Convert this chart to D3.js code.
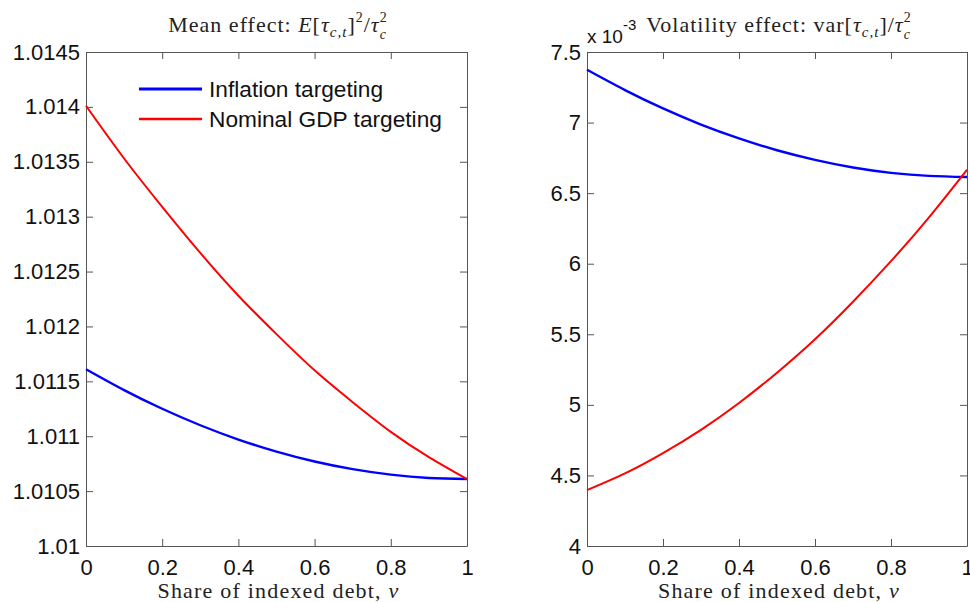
<!DOCTYPE html>
<meta charset="utf-8">
<script src="https://d3js.org/d3.v7.min.js"></script>
<style>
  body { margin: 0; background: #fff; }
  .tick text { font-family: "Liberation Sans", Arial, sans-serif; font-size: 22px; fill: #111; }
  .axis path, .axis line { stroke: #555; }
</style>
<div id="chart"></div>
<script>

// share of indexed debt (x values)
var share = [0, 0.1, 0.2, 0.3, 0.4, 0.5, 0.6, 0.7, 0.8, 0.9, 1];

// mean effect E[tau]^2 / tau^2
var meanInflation = [1.01161, 1.01142, 1.01125, 1.01110, 1.01097, 1.01086, 1.01077, 1.01070, 1.01065, 1.01062, 1.01061];
var meanNominal   = [1.01401, 1.01353, 1.01309, 1.01267, 1.01228, 1.01193, 1.01160, 1.01131, 1.01104, 1.01081, 1.01061];

// volatility effect var[tau] / tau^2, in units of 10^-3
var volInflation = [7.374, 7.230, 7.100, 6.986, 6.888, 6.804, 6.736, 6.682, 6.644, 6.622, 6.614];
var volNominal   = [4.396, 4.514, 4.658, 4.823, 5.013, 5.228, 5.465, 5.731, 6.018, 6.329, 6.666];

// tick labels
var xTicks = [0, 0.2, 0.4, 0.6, 0.8, 1];
var meanTicks = [1.01, 1.0105, 1.011, 1.0115, 1.012, 1.0125, 1.013, 1.0135, 1.014, 1.0145];
var volTicks = [4, 4.5, 5, 5.5, 6, 6.5, 7, 7.5];

var seriesNames = ["Inflation targeting", "Nominal GDP targeting"];
var seriesColors = ["#0000ff", "#ff0000"];
var seriesWidths = [2.4, 2];

var svg = d3.select("#chart")
  .append("svg")
    .attr("width", 970)
    .attr("height", 602);

// draw one panel with box axes and inward ticks
function drawPanel(left, right, top, bottom, yDomain, yTicks, yFormat, series) {
  var x = d3.scaleLinear().domain([0, 1]).range([left, right]);
  var y = d3.scaleLinear().domain(yDomain).range([bottom, top]);
  var g = svg.append("g");

  g.append("g").attr("class", "axis")
    .attr("transform", "translate(0," + bottom + ")")
    .call(d3.axisBottom(x).tickValues(xTicks).tickSize(-7).tickSizeOuter(0).tickPadding(13)
      .tickFormat(function(d) { return String(d); }));
  g.append("g").attr("class", "axis")
    .attr("transform", "translate(0," + top + ")")
    .call(d3.axisTop(x).tickValues(xTicks).tickSize(-7).tickSizeOuter(0).tickFormat(""));
  g.append("g").attr("class", "axis")
    .attr("transform", "translate(" + left + ",0)")
    .call(d3.axisLeft(y).tickValues(yTicks).tickSize(-7).tickSizeOuter(0).tickPadding(6)
      .tickFormat(yFormat));
  g.append("g").attr("class", "axis")
    .attr("transform", "translate(" + right + ",0)")
    .call(d3.axisRight(y).tickValues(yTicks).tickSize(-7).tickSizeOuter(0).tickFormat(""));

  var line = d3.line()
    .x(function(d, i) { return x(share[i]); })
    .y(function(d) { return y(d); })
    .curve(d3.curveNatural);

  series.forEach(function(s, i) {
    g.append("path")
      .datum(s)
      .attr("fill", "none")
      .attr("stroke", seriesColors[i])
      .attr("stroke-width", seriesWidths[i])
      .attr("stroke-linejoin", "round")
      .attr("d", line);
  });

  g.append("text")
    .attr("x", (left + right) / 2 + 2)
    .attr("y", 598)
    .attr("text-anchor", "middle")
    .style("font-family", "'Liberation Serif', 'Times New Roman', serif")
    .style("font-size", "22px")
    .style("letter-spacing", "1.2px")
    .style("fill", "#222")
    .call(function(t) {
      t.append("tspan").text("Share of indexed debt, ");
      t.append("tspan").style("font-style", "italic").text("v");
    });
  return g;
}

// serif title made of tspans (math parts in italic, sub/superscripts)
function title(cx, parts) {
  var t = svg.append("text")
    .attr("x", cx)
    .attr("y", 32)
    .attr("text-anchor", "middle")
    .style("font-family", "'Liberation Serif', 'Times New Roman', serif")
    .style("font-size", "22px")
    .style("letter-spacing", "1px")
    .style("fill", "#222");
  parts.forEach(function(p) {
    var s = t.append("tspan").text(p.t);
    if (p.it) s.style("font-style", "italic");
    if (p.size) s.style("font-size", p.size + "px");
    if (p.dx) s.attr("dx", p.dx);
    if (p.dy) s.attr("dy", p.dy);
  });
}

drawPanel(86, 467, 52, 546, [1.01, 1.0145], meanTicks,
  function(d) { return String(+d.toFixed(4)); }, [meanInflation, meanNominal]);
drawPanel(587, 967, 52, 546, [4, 7.5], volTicks,
  function(d) { return String(d); }, [volInflation, volNominal]);

title(278, [
  {t: "Mean effect: "}, {t: "E", it: true}, {t: "["}, {t: "τ", it: true},
  {t: "c,t", it: true, size: 15, dy: 5}, {t: "]", dy: -5}, {t: "2", size: 14, dy: -10},
  {t: "/", dy: 10}, {t: "τ", it: true}, {t: "2", size: 14, dy: -10},
  {t: "c", it: true, size: 14, dx: -8, dy: 17}
]);
title(779, [
  {t: "Volatility effect: var["}, {t: "τ", it: true},
  {t: "c,t", it: true, size: 15, dy: 5}, {t: "]/", dy: -5}, {t: "τ", it: true},
  {t: "2", size: 14, dy: -10}, {t: "c", it: true, size: 14, dx: -8, dy: 17}
]);

// exponent label of the right panel
svg.append("text")
  .attr("x", 587)
  .attr("y", 43)
  .style("font-family", "'Liberation Sans', Arial, sans-serif")
  .style("font-size", "19px")
  .style("fill", "#111")
  .call(function(t) {
    t.append("tspan").text("x 10");
    t.append("tspan").attr("dy", -13).style("font-size", "15px").text("-3");
  });

// legend, no box
var legend = svg.append("g");
seriesNames.forEach(function(name, i) {
  var ly = 89 + i * 30;
  legend.append("line")
    .attr("x1", 139).attr("x2", 202)
    .attr("y1", ly).attr("y2", ly)
    .attr("stroke", seriesColors[i])
    .attr("stroke-width", i === 0 ? 3 : 2.4);
  legend.append("text")
    .attr("x", 209)
    .attr("y", ly + 8)
    .style("font-family", "'Liberation Sans', Arial, sans-serif")
    .style("font-size", "22.7px")
    .style("fill", "#111")
    .text(name);
});

</script>
